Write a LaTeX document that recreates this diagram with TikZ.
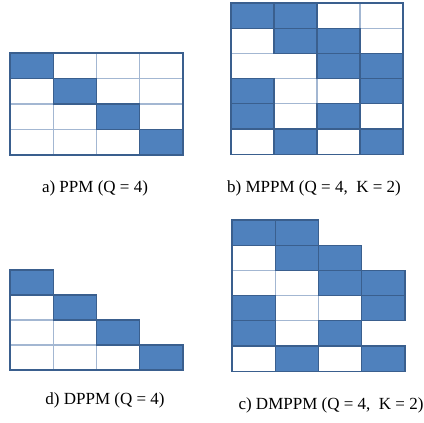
\documentclass[tikz,border=0pt]{standalone}
\usepackage{fontspec}
\setmainfont{Liberation Serif}
\usepackage{tikz}
\usetikzlibrary{positioning}
\definecolor{ppmblue}{HTML}{4F81BD}
\definecolor{ppmedge}{HTML}{3A5F8E}
\definecolor{ppmgrid}{HTML}{A3B7D2}
\tikzset{
  slotoff/.style = {fill=white, draw=ppmgrid, line width=1.1pt},
  sloton/.style  = {fill=ppmblue, draw=ppmedge, line width=1.3pt},
  frame/.style   = {draw=ppmedge, line width=1.3pt, line join=miter},
  caplab/.style  = {font=\fontsize{17}{20}\selectfont, inner sep=0pt},
}
\begin{document}
\begin{tikzpicture}[x=1pt,y=-1pt]
\useasboundingbox (0,0) rectangle (424,423);

% a) PPM
\begin{scope}[shift={(10,53)}, x=43.25pt, y=-25.5pt]
  \foreach \r in {0,...,3}
    \foreach \c in {0,...,3}
      \draw[slotoff] (\c,\r) rectangle ++(1,1);
  \foreach \c/\r in {0/0,1/1,2/2,3/3}
    \draw[sloton] (\c,\r) rectangle ++(1,1);
  \draw[frame] (0,0) rectangle (4,4);
\end{scope}

% b) MPPM
\begin{scope}[shift={(231,3)}, x=43pt, y=-25.2pt]
  \foreach \c/\r in {2/0,3/0,0/1,3/1,1/3,2/3,1/4,3/4,0/5,2/5}
    \draw[slotoff] (\c,\r) rectangle ++(1,1);
  \draw[slotoff] (0,2) rectangle (2,3);
  \foreach \c/\r in {0/0,1/0,1/1,2/1,2/2,3/2,0/3,3/3,0/4,2/4,1/5,3/5}
    \draw[sloton] (\c,\r) rectangle ++(1,1);
  \draw[frame] (0,0) rectangle (4,6);
\end{scope}

% d) DPPM
\begin{scope}[shift={(10,270)}, x=43.25pt, y=-25pt]
  \foreach \c/\r in {0/1,0/2,1/2,0/3,1/3,2/3}
    \draw[slotoff] (\c,\r) rectangle ++(1,1);
  \foreach \c/\r in {0/0,1/1,2/2,3/3}
    \draw[sloton] (\c,\r) rectangle ++(1,1);
  \draw[frame] (0,0) -- (1,0) -- (1,1) -- (2,1) -- (2,2) -- (3,2) -- (3,3)
    -- (4,3) -- (4,4) -- (0,4) -- cycle;
\end{scope}

% c) DMPPM
\begin{scope}[shift={(232,220)}, x=43.25pt, y=-25.2pt]
  \foreach \c/\r in {0/1,0/2,1/2,1/3,2/3,1/4,0/5,2/5}
    \draw[slotoff] (\c,\r) rectangle ++(1,1);
  \foreach \c/\r in {0/0,1/0,1/1,2/1,2/2,3/2,0/3,3/3,0/4,2/4,1/5,3/5}
    \draw[sloton] (\c,\r) rectangle ++(1,1);
  \draw[frame] (0,0) -- (2,0) -- (2,1) -- (3,1) -- (3,2) -- (4,2) -- (4,4)
    -- (3,4) -- (3,5) -- (4,5) -- (4,6) -- (0,6) -- cycle;
\end{scope}

\node[caplab] (capa) at (95,188) {a) PPM (Q = 4)};
\node[caplab] (capb) at (314,188) {b) MPPM (Q = 4,~~K = 2)};
\node[caplab] (capd) at (105,400) {d) DPPM (Q = 4)};
\node[caplab] (capc) at (331,405) {c) DMPPM (Q = 4,~~K = 2)};
\end{tikzpicture}
\end{document}
